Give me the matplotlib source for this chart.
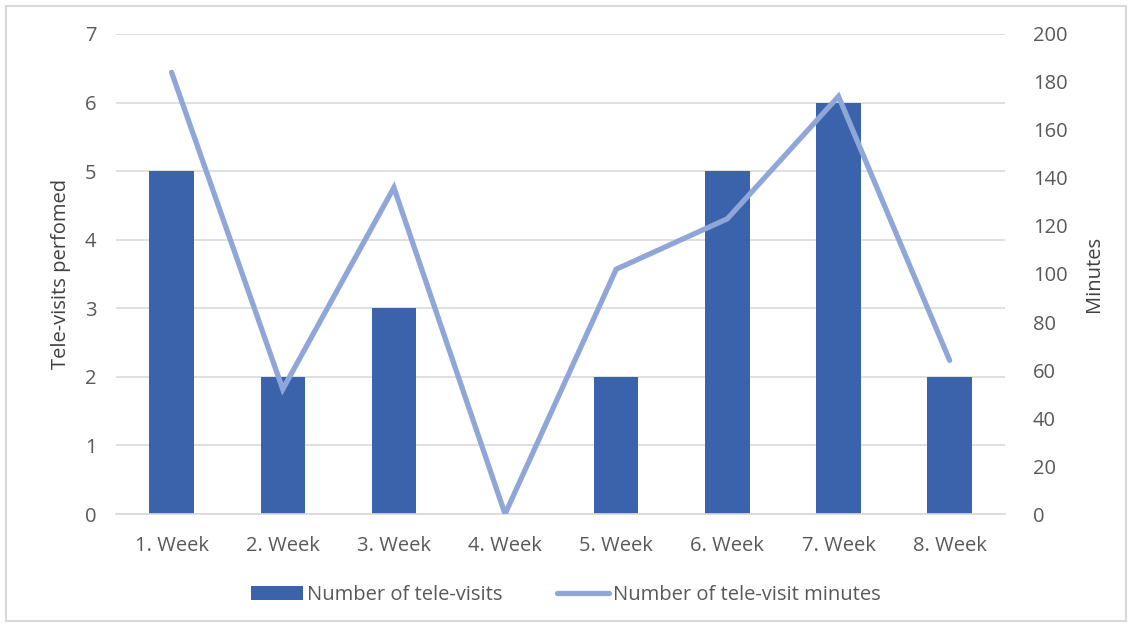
import matplotlib.pyplot as plt
import numpy as np

weeks = ['1. Week', '2. Week', '3. Week', '4. Week', '5. Week', '6. Week', '7. Week', '8. Week']
tele_visits = [5, 2, 3, 0, 2, 5, 6, 2]
tele_minutes = [184, 52, 136, 0, 102, 123, 174, 64]

plt.rcParams['font.family'] = ['Open Sans', 'DejaVu Sans']
TXT = '#595959'
FS = 14.5

fig = plt.figure(figsize=(11.32, 6.27), dpi=100)
ax = fig.add_axes([0.1025, 0.1802, 0.7855, 0.7656])
x = np.arange(len(weeks))

# bars on left axis
bars = ax.bar(x, tele_visits, width=0.4, color='#3A63AC', zorder=2, label='Number of tele-visits')
ax.set_ylim(0, 7)
ax.set_xlim(-0.5, len(weeks) - 0.5)
ax.set_yticks(range(0, 8))
ax.set_xticks(x)
ax.set_xticklabels(weeks)
ax.grid(axis='y', color='#D9D9D9', lw=1.2, zorder=0)
ax.set_axisbelow(True)
for s in ['top', 'right', 'left']:
    ax.spines[s].set_visible(False)
ax.spines['bottom'].set_color('#D9D9D9')
ax.spines['bottom'].set_linewidth(1.2)
ax.tick_params(length=0, labelsize=FS, labelcolor=TXT, pad=16)
ax.tick_params(axis='y', pad=14)
ax.set_ylabel('Tele-visits perfomed', fontsize=FS, color='#404040', labelpad=10)

# line on right axis
ax2 = ax.twinx()
line, = ax2.plot(x, tele_minutes, color='#8FA6D8', lw=3.8, solid_capstyle='round',
                 solid_joinstyle='miter', label='Number of tele-visit minutes', zorder=3)
ax2.set_ylim(0, 200)
ax2.set_yticks(range(0, 201, 20))
for s in ax2.spines.values():
    s.set_visible(False)
ax2.tick_params(length=0, labelsize=FS, labelcolor=TXT, pad=20)
ax2.set_ylabel('Minutes', fontsize=FS, color='#404040', labelpad=12)

fig.legend([bars, line], ['Number of tele-visits', 'Number of tele-visit minutes'],
           loc='center', bbox_to_anchor=(0.5, 0.051), ncol=2, frameon=False,
           fontsize=FS, labelcolor=TXT, handlelength=2.6, handletextpad=0.2,
           columnspacing=2.7)

# light border around the chart
fig.patches.append(plt.Rectangle((0.005, 0.01), 0.99, 0.98, transform=fig.transFigure,
                                 fill=False, edgecolor='#D9D9D9', lw=1.5))

fig.savefig('out.png', dpi=100)
